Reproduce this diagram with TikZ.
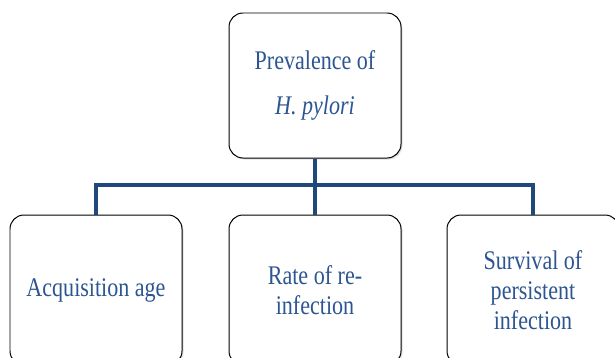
\documentclass[tikz,border=0pt]{standalone}
\usepackage{fontspec}
\setmainfont{Liberation Serif}[FakeStretch=0.82]
\usepackage{tikz}
\usetikzlibrary{shapes,shadows}
\definecolor{linkblue}{HTML}{1F497D}
\definecolor{textblue}{HTML}{2C5591}
\tikzset{
  boxnode/.style={draw=black,line width=1pt,rounded corners=14bp,fill=white,
    minimum width=172bp,align=center,text=textblue,
    font=\fontsize{27}{30}\selectfont,
    drop shadow={opacity=0.25,shadow xshift=1.5bp,shadow yshift=-1.5bp}},
  linkline/.style={draw=linkblue,line width=3.2bp}
}
\begin{document}
\begin{tikzpicture}
\clip (0bp,0bp) rectangle (615bp,-358bp);

\node (PREV) at (315bp,-85.5bp)[boxnode,minimum height=145bp] {Prevalence of\\[15bp]\textit{H. pylori}};
\node (ACQ) at (96bp,-290bp)[boxnode,minimum height=150bp] {Acquisition age};
\node (RATE) at (315bp,-290bp)[boxnode,minimum height=150bp] {Rate of re-\\infection};
\node (SURV) at (533bp,-290bp)[boxnode,minimum height=150bp] {Survival of\\persistent\\infection};
\coordinate (BUS) at (315bp,-185bp);
\draw [linkline] (PREV.south) -- (BUS);
\draw [linkline] (BUS) -| (ACQ.north);
\draw [linkline] (BUS) -- (RATE.north);
\draw [linkline] (BUS) -| (SURV.north);
\end{tikzpicture}
\end{document}
